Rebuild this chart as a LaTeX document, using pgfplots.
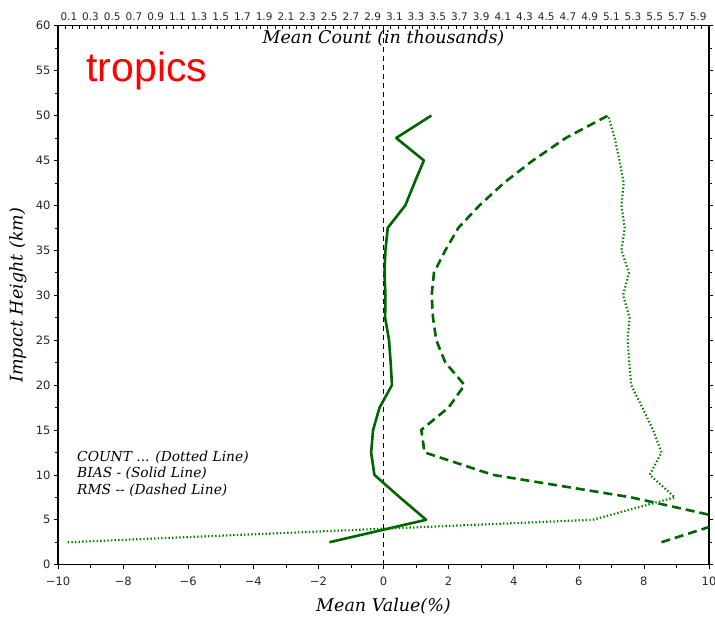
\documentclass[border=0pt]{standalone}
\usepackage{pgfplots}
\pgfplotsset{compat=1.18}
\usepackage{fontspec}
\setmainfont{DejaVu Serif}
\setsansfont{DejaVu Sans}
\newfontfamily\arialfont{Liberation Sans}
\definecolor{dgreen}{RGB}{0,100,0}
\definecolor{mgreen}{RGB}{0,128,0}
\begin{document}
\begin{tikzpicture}
\begin{axis}[
  scale only axis, width=651pt, height=539pt,
  xmin=-10, xmax=10, ymin=0, ymax=60,
  xtick={-10,-8,-6,-4,-2,0,2,4,6,8,10},
  xticklabels={−10,−8,−6,−4,−2,0,2,4,6,8,10},
  minor xtick={-9,-7,-5,-3,-1,1,3,5,7,9},
  ytick={0,5,...,60},
  minor ytick={2.5,7.5,...,57.5},
  xtick pos=bottom, ytick pos=both, yticklabel pos=left,
  tick align=outside,
  major tick length=4pt, minor tick length=3pt,
  tick style={black, line width=0.6pt},
  axis line style={black, line width=1.2pt},
  ticklabel style={font=\sffamily\fontsize{11.5}{13}\selectfont, text=black!85},
  xticklabel style={yshift=-5pt},
  /pgf/number format/assume math mode=true,
  xlabel={\itshape Mean Value(\%)},
  ylabel={\itshape Impact Height (km)},
  label style={font=\fontsize{17.5}{20}\selectfont},
  xlabel style={at={(axis description cs:0.5,-0.0765)}, anchor=center},
  ylabel style={at={(axis description cs:-0.0614,0.5)}, anchor=center},
]
\addplot[black, line width=0.8pt, dash pattern=on 5pt off 4pt] coordinates {(0,0) (0,60)};
% BIAS (solid)
\addplot[dgreen, line width=2.6pt, line join=round] coordinates {
(-1.66,2.5) (1.31,5) (0.50,7.5) (-0.28,10) (-0.38,12.5) (-0.32,15) (-0.12,17.5)
(0.26,20) (0.22,22.5) (0.17,25) (0.05,27.5) (0.06,30) (0.03,32.5) (0.06,35)
(0.13,37.5) (0.67,40) (0.95,42.5) (1.24,45) (0.39,47.5) (1.47,50)};
% RMS (dashed)
\addplot[dgreen, line width=2.6pt, dash pattern=on 9pt off 5pt] coordinates {
(8.54,2.5) (10.7,5) (7.6,7.5) (3.36,10) (1.26,12.5) (1.16,15) (2.0,17.5)
(2.49,20) (1.9,22.5) (1.62,25) (1.52,27.5) (1.48,30) (1.55,32.5) (1.9,35)
(2.3,37.5) (2.95,40) (3.7,42.5) (4.59,45) (5.6,47.5) (6.9,50)};
\node[anchor=base west, text=red, font=\arialfont\fontsize{41}{46}\selectfont]
  at (rel axis cs:0.0384,0.896) {tropics};
\node[anchor=north west, align=left, inner sep=0pt, font=\itshape\fontsize{13.8}{16.5}\selectfont]
  at (rel axis cs:0.0292,0.2115) {COUNT ... (Dotted Line)\\BIAS - (Solid Line)\\RMS -{}- (Dashed Line)};
\node[anchor=north, inner sep=2pt, font=\itshape\fontsize{17.5}{20}\selectfont] at (rel axis cs:0.5,0.996) {Mean Count (in thousands)};
\coordinate (bl) at (rel axis cs:0,0);
\coordinate (tr) at (rel axis cs:1,1);
\end{axis}
\begin{axis}[
  scale only axis, width=651pt, height=539pt,
  xmin=0, xmax=6, ymin=0, ymax=60,
  hide y axis,
  axis x line*=top,
  xtick={0.1,0.3,0.5,0.7,0.9,1.1,1.3,1.5,1.7,1.9,2.1,2.3,2.5,2.7,2.9,3.1,3.3,3.5,3.7,3.9,4.1,4.3,4.5,4.7,4.9,5.1,5.3,5.5,5.7,5.9},
  minor xtick={0.0667,0.1333,0.2,0.2667,0.3333,0.4,0.4667,0.5333,0.6,0.6667,0.7333,0.8,0.8667,0.9333,1.0,
    1.0667,1.1333,1.2,1.2667,1.3333,1.4,1.4667,1.5333,1.6,1.6667,1.7333,1.8,1.8667,1.9333,2.0,
    2.0667,2.1333,2.2,2.2667,2.3333,2.4,2.4667,2.5333,2.6,2.6667,2.7333,2.8,2.8667,2.9333,3.0,
    3.0667,3.1333,3.2,3.2667,3.3333,3.4,3.4667,3.5333,3.6,3.6667,3.7333,3.8,3.8667,3.9333,4.0,
    4.0667,4.1333,4.2,4.2667,4.3333,4.4,4.4667,4.5333,4.6,4.6667,4.7333,4.8,4.8667,4.9333,5.0,
    5.0667,5.1333,5.2,5.2667,5.3333,5.4,5.4667,5.5333,5.6,5.6667,5.7333,5.8,5.8667,5.9333},
  tick align=inside,
  major tick length=0pt, minor tick length=3.5pt,
  tick style={black, line width=0.6pt},
  axis line style={black, line width=1.2pt},
  ticklabel style={font=\sffamily\fontsize{10.5}{12}\selectfont, text=black!85},
  xticklabel style={yshift=1.5pt, /pgf/number format/.cd, fixed, fixed zerofill, precision=1},
  /pgf/number format/assume math mode=true,
]
% COUNT (dotted), thousands
\addplot[mgreen, line width=2.2pt, dash pattern=on 1.4pt off 2.2pt] coordinates {
(0.090,2.5) (4.929,5) (5.685,7.5) (5.454,10) (5.562,12.5) (5.484,15) (5.385,17.5)
(5.283,20) (5.265,22.5) (5.250,25) (5.268,27.5) (5.208,30) (5.262,32.5) (5.193,35)
(5.223,37.5) (5.193,40) (5.214,42.5) (5.175,45) (5.130,47.5) (5.070,50)};
\end{axis}
\pgfresetboundingbox
\useasboundingbox ([xshift=-58pt,yshift=-52pt]bl) rectangle ([xshift=6pt,yshift=25.7pt]tr);
\end{tikzpicture}
\end{document}
